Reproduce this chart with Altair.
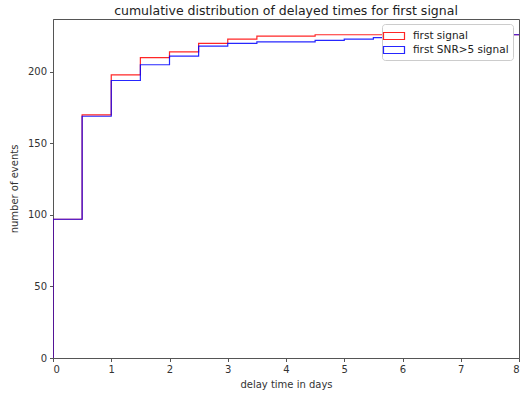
import altair as alt
import pandas as pd

# bin left edges (days) and cumulative counts per bin
bin_left = [0.0, 0.5, 1.0, 1.5, 2.0, 2.5, 3.0, 3.5, 4.0, 4.5, 5.0, 5.5, 6.0, 6.5, 7.0, 7.5]
bin_right_end = 8.0
first_signal = [97, 170, 198, 210, 214, 220, 223, 225, 225, 226, 226, 226, 226, 226, 226, 226]
first_snr5 = [97, 169, 194, 205, 211, 218, 220, 221, 221, 222, 223, 224, 224, 224, 224, 226]
series_names = ["first signal", "first SNR>5 signal"]
series_colors = ["#ff0000", "#0000ff"]
y_ticks = [0, 50, 100, 150, 200]
x_ticks = [0, 1, 2, 3, 4, 5, 6, 7, 8]

rows = []
for name, vals in zip(series_names, [first_signal, first_snr5]):
    seq = [(bin_left[0], 0)] + list(zip(bin_left, vals)) + [(bin_right_end, vals[-1])]
    for i, (x, y) in enumerate(seq):
        rows.append({"series": name, "x": x, "y": y, "i": i})
df = pd.DataFrame(rows)

font = "DejaVu Sans"

chart = alt.Chart(df).mark_line(interpolate="step-after", strokeWidth=1.2, opacity=0.85, clip=True).encode(
    x=alt.X("x:Q", scale=alt.Scale(domain=[0, 8], nice=False, zero=False),
            axis=alt.Axis(values=x_ticks, title="delay time in days", format="d")),
    y=alt.Y("y:Q", scale=alt.Scale(domain=[0, 237], nice=False),
            axis=alt.Axis(values=y_ticks, title="number of events", format="d")),
    color=alt.Color("series:N", sort=series_names,
                    scale=alt.Scale(domain=series_names, range=series_colors),
                    legend=alt.Legend(title=None, orient="none", legendX=329, legendY=5,
                                      symbolType="M-1.5,-0.5H1.5V0.5H-1.5Z", symbolSize=196,
                                      symbolStrokeWidth=1.2, symbolFillColor="transparent",
                                      labelFontSize=10.5, labelFont=font, labelColor="#222",
                                      fillColor="white", strokeColor="#cccccc", cornerRadius=3,
                                      padding=4, rowPadding=0, labelOffset=11)),
    order="i:Q",
    detail="series:N",
).properties(
    width=466, height=339,
    title=alt.Title("cumulative distribution of delayed times for first signal",
                    fontSize=12.5, font=font, fontWeight="normal", color="#222", offset=2),
    autosize=alt.AutoSizeParams(type="none"),
    padding={"left": 53, "top": 19, "right": 3, "bottom": 38},
).configure_view(
    stroke="#555", strokeWidth=1
).configure_axis(
    grid=False, domainColor="#555", tickColor="#555", tickSize=3.5,
    labelFont=font, labelFontSize=10, labelColor="#333", labelPadding=3,
    titleFont=font, titleFontSize=10, titleColor="#333", titleFontWeight="normal",
).configure_axisX(titlePadding=5).configure_axisY(titlePadding=8)

chart.save("out.html", embed_options={"renderer": "svg", "actions": False})
